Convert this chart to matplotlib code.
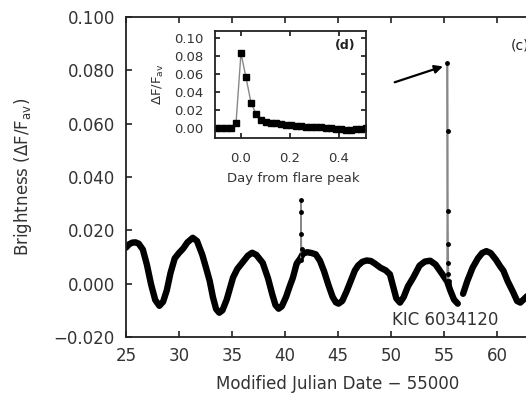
import numpy as np
import matplotlib
matplotlib.use("Agg")
import matplotlib.pyplot as plt
from matplotlib.ticker import FuncFormatter

# light curve (MJD - 55000, dF/F_av); NaN = data gap
mjd = [25.0, 25.3, 25.6, 25.9, 26.2, 26.59, 26.98, 27.37, 27.76, 28.15,
       28.5, 28.85, 29.2, 29.6, 30.0, 30.4, 30.8, 31.3, 31.7, 32.2,
       32.55, 32.9, 33.2, 33.5, 33.8, 34.1, 34.5, 35.1, 35.5, 36.0,
       36.5, 36.9, 37.3, 37.9, 38.4, 38.8, 39.1, 39.4, 39.7, 40.1,
       40.4, 40.75, 41.1, 41.45, 41.7, 42.1, 42.5, 42.9, 43.3, 43.7,
       44.1, 44.5, 44.8, 45.05, 45.4, 45.8, 46.2, 46.6, 46.9, 47.3,
       47.7, 48.1, 48.5, 49.0, 49.5, 49.9, 50.2, 50.5, 50.85, 51.2,
       51.6, 52.1, 52.7, 53.2, 53.7, 54.2, 54.8, 55.3, 55.6, 55.95,
       56.3, 56.5, 56.8, 57.2, 57.7, 58.2, 58.6, 59.0, 59.4, 59.9,
       60.3, 60.6, 61.0, 61.5, 61.9, 62.2, 62.6, 63.0]
flux = [0.0135, 0.0148, 0.0154, 0.0155, 0.0150, 0.0128, 0.0070, -0.0003, -0.0061, -0.0083,
        -0.0068, -0.0025, 0.0040, 0.0095, 0.0115, 0.0132, 0.0155, 0.0172, 0.0160, 0.0108,
        0.0060, 0.0010, -0.0050, -0.0095, -0.0109, -0.0100, -0.0060, 0.0023, 0.0055, 0.0080,
        0.0105, 0.0116, 0.0108, 0.0078, 0.0020, -0.0040, -0.0080, -0.0094, -0.0085, -0.0050,
        -0.0015, 0.0023, 0.0075, 0.0095, 0.0113, 0.0118, 0.0115, 0.0110, 0.0086, 0.0045,
        -0.0005, -0.0050, -0.0070, -0.0075, -0.0065, -0.0030, 0.0010, 0.0050, 0.0068, 0.0082,
        0.0087, 0.0085, 0.0075, 0.0060, 0.0050, 0.0035, -0.0010, -0.0055, -0.0071, -0.0050,
        -0.0010, 0.0023, 0.0068, 0.0083, 0.0086, 0.0072, 0.0038, 0.0008, -0.0026, -0.0060,
        -0.0075, np.nan, -0.0038, 0.0010, 0.0060, 0.0095, 0.0115, 0.0122, 0.0115, 0.0090,
        0.0065, 0.0049, 0.0010, -0.0030, -0.0065, -0.0071, -0.0056, -0.0040]

# the two flares
flare1_t = [41.48, 41.50, 41.52, 41.54, 41.56, 41.58]
flare1_f = [0.0090, 0.0315, 0.0270, 0.0188, 0.0130, 0.0110]
flare2_t = [55.30, 55.32, 55.34, 55.36, 55.38, 55.40, 55.42, 55.44, 55.46]
flare2_f = [0.0010, 0.0829, 0.0574, 0.0274, 0.0150, 0.0079, 0.0038, 0.0010, 0.0000]

# inset: flare profile, 30 min cadence
day = [-0.102, -0.082, -0.061, -0.041, -0.020, 0.000, 0.020, 0.041, 0.061, 0.082,
       0.102, 0.122, 0.143, 0.163, 0.184, 0.204, 0.225, 0.245, 0.265, 0.286,
       0.306, 0.327, 0.347, 0.367, 0.388, 0.408, 0.429, 0.449, 0.469, 0.490, 0.510]
dff = [0.000, 0.000, 0.000, 0.000, 0.006, 0.083, 0.057, 0.028, 0.016, 0.009,
       0.007, 0.005, 0.006, 0.004, 0.003, 0.003, 0.002, 0.002, 0.001, 0.001,
       0.001, 0.001, 0.000, 0.000, -0.001, -0.001, -0.002, -0.002, -0.001, -0.001, 0.000]

fig = plt.figure(figsize=(5.26, 3.93), dpi=100)
ax = fig.add_axes([0.2395, 0.1425, 0.7658, 0.8142])

ax.plot(mjd, flux, color='black', lw=4.6, solid_joinstyle='round', solid_capstyle='round')
ax.plot(flare1_t, flare1_f, color='#888888', lw=1, marker='o', ms=2.5, mfc='black', mec='black')
ax.plot(flare2_t, flare2_f, color='#888888', lw=1.2, marker='o', ms=2.5, mfc='black', mec='black')

ax.set_xlim(25, 63)
ax.set_ylim(-0.020, 0.100)
ax.set_xticks([25, 30, 35, 40, 45, 50, 55, 60])
ax.set_yticks([-0.02, 0.0, 0.02, 0.04, 0.06, 0.08, 0.10])
ax.yaxis.set_major_formatter(FuncFormatter(lambda v, p: ('%.3f' % v).replace('-', '\u2212')))
ax.tick_params(direction='in', top=True, right=False, length=4, width=1.2,
               labelsize=12, colors='#222222', labelcolor='#333333')
ax.tick_params(axis='y', pad=8)
ax.tick_params(axis='x', pad=7)
ax.spines['right'].set_visible(False)
for s in ['left', 'top', 'bottom']:
    ax.spines[s].set_linewidth(1.3)
    ax.spines[s].set_color('#222222')

ax.set_xlabel('Modified Julian Date \u2212 55000', fontsize=12, color='#333333')
ax.xaxis.set_label_coords(0.525, -0.120)
ax.set_ylabel(r'Brightness ($\Delta$F/F$_{\rm av}$)', fontsize=12, color='#333333')
ax.yaxis.set_label_coords(-0.228, 0.5)

ax.annotate('', xy=(55.15, 0.0818), xytext=(50.1, 0.0752),
            arrowprops=dict(arrowstyle='-|>', color='black', lw=1.6, mutation_scale=12))
ax.text(50.1, -0.0138, 'KIC 6034120', fontsize=12, color='#333333', ha='left', va='center')
fig.text(0.971, 0.885, '(c)', fontsize=10, color='#222222', ha='left', va='center')

# inset
axi = fig.add_axes([0.4087, 0.6489, 0.2871, 0.2723])
axi.plot(day, dff, color='#888888', lw=1, marker='s', ms=4.5, mfc='black', mec='black')
axi.set_xlim(-0.106, 0.51)
axi.set_ylim(-0.0111, 0.1078)
axi.set_xticks([0.0, 0.2, 0.4])
axi.set_yticks([0.0, 0.02, 0.04, 0.06, 0.08, 0.10])
axi.xaxis.set_major_formatter(FuncFormatter(lambda v, p: '%.1f' % v))
axi.yaxis.set_major_formatter(FuncFormatter(lambda v, p: '%.2f' % v))
axi.tick_params(direction='in', top=True, right=True, length=3.5, width=1.1,
                labelsize=9.5, labelcolor='#333333')
axi.tick_params(axis='y', pad=8)
axi.tick_params(axis='x', pad=10)
for s in axi.spines.values():
    s.set_linewidth(1.3)
    s.set_color('#222222')
axi.set_xlabel('Day from flare peak', fontsize=9.5, color='#333333')
axi.xaxis.set_label_coords(0.52, -0.318)
axi.set_ylabel(r'$\Delta$F/F$_{\rm av}$', fontsize=9.5, color='#333333')
axi.yaxis.set_label_coords(-0.324, 0.5)
axi.text(0.93, 0.86, '(d)', transform=axi.transAxes, fontsize=9, ha='right', va='center',
         color='#222222', fontweight='bold')

fig.savefig('out.png', dpi=100)
